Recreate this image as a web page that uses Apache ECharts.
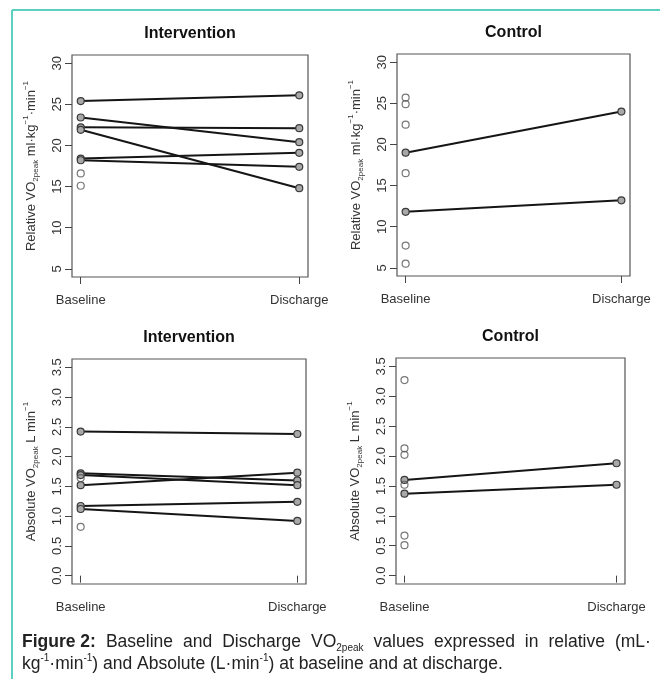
<!DOCTYPE html>
<html>
<head>
<meta charset="utf-8">
<script src="https://cdn.jsdelivr.net/npm/echarts@6/dist/echarts.min.js"></script>
<style>
html,body{margin:0;padding:0;background:#fff;}
#chart{width:660px;height:679px;}
</style>
</head>
<body>
<div id="chart"></div>
<script>
// ---- data ----
const timepoints = ['Baseline', 'Discharge'];
const timeX = [1, 2];

const panelTitles = ['Intervention', 'Control', 'Intervention', 'Control'];

// Relative VO2peak (ml·kg-1·min-1)
const relIntBase = [25.4, 23.4, 22.2, 21.9, 18.4, 18.2, 16.6, 15.1];
const relIntDis  = [26.1, 20.4, 22.1, 14.8, 19.1, 17.4, null, null];
const relCtlBase = [25.7, 24.9, 22.4, 19.0, 16.5, 11.8, 7.7, 5.5];
const relCtlDis  = [null, null, null, 24.0, null, 13.2, null, null];

// Absolute VO2peak (L·min-1)
const absIntBase = [2.42, 1.72, 1.69, 1.64, 1.52, 1.17, 1.12, 0.82];
const absIntDis  = [2.38, 1.60, 1.52, null, 1.73, 1.24, 0.92, null];
const absCtlBase = [3.27, 2.13, 2.02, 1.60, 1.52, 1.37, 0.67, 0.51];
const absCtlDis  = [null, null, null, 1.88, null, 1.52, null, null];

const relTicks = [5, 10, 15, 20, 25, 30];
const absTicks = [0, 0.5, 1.0, 1.5, 2.0, 2.5, 3.0, 3.5];

// ---- layout ----
const grids = [
  {left: 72, top: 55, width: 236, height: 222},
  {left: 397, top: 54, width: 233, height: 222},
  {left: 72, top: 359, width: 234, height: 225},
  {left: 396, top: 358, width: 229, height: 226}
];
const panels = [
  {base: relIntBase, dis: relIntDis, ticks: relTicks, min: 4, max: 31, kind: 'rel'},
  {base: relCtlBase, dis: relCtlDis, ticks: relTicks, min: 4, max: 31, kind: 'rel'},
  {base: absIntBase, dis: absIntDis, ticks: absTicks, min: -0.14, max: 3.64, kind: 'abs'},
  {base: absCtlBase, dis: absCtlDis, ticks: absTicks, min: -0.14, max: 3.64, kind: 'abs'}
];

const FONT = 'Liberation Sans, Arial, Helvetica, sans-serif';
const relName = '{n|Relative VO}{s|2peak}{n| ml·kg}{p|−1}{n|·min}{p|−1}';
const absName = '{n|Absolute VO}{s|2peak}{n| L min}{p|−1}';
const nameRich = {
  n: {fontSize: 13, fontFamily: FONT, color: '#333', lineHeight: 18, verticalAlign: 'middle'},
  s: {fontSize: 8, fontFamily: FONT, color: '#333', lineHeight: 18, verticalAlign: 'bottom'},
  p: {fontSize: 8, fontFamily: FONT, color: '#333', lineHeight: 18, verticalAlign: 'top'}
};

const xAxes = [], yAxes = [], series = [];
panels.forEach((p, i) => {
  xAxes.push({
    type: 'value', gridIndex: i, min: 0.96, max: 2.04,
    axisLine: {show: false},
    splitLine: {show: false},
    axisTick: {show: true, inside: false, length: 7, customValues: timeX, lineStyle: {color: '#444', width: 1}},
    axisLabel: {
      customValues: timeX, margin: 17, fontSize: 13, fontFamily: FONT, color: '#333',
      formatter: v => timepoints[timeX.indexOf(Math.round(v))] || ''
    }
  });
  yAxes.push({
    type: 'value', gridIndex: i, min: p.min, max: p.max,
    axisLine: {show: false},
    splitLine: {show: false},
    axisTick: {show: true, inside: false, length: 7, customValues: p.ticks, lineStyle: {color: '#444', width: 1}},
    axisLabel: {
      customValues: p.ticks, rotate: 90, margin: 8, fontSize: 13, fontFamily: FONT, color: '#333',
      formatter: v => p.kind === 'abs' ? Number(v).toFixed(1) : String(v)
    },
    name: p.kind === 'abs' ? absName : relName,
    nameLocation: 'middle', nameRotate: 90, nameGap: 32,
    nameTextStyle: {rich: nameRich}
  });
  p.base.forEach((b, k) => {
    const d = p.dis[k];
    if (d !== null && d !== undefined) {
      series.push({
        type: 'line', xAxisIndex: i, yAxisIndex: i,
        data: [[timeX[0], b], [timeX[1], d]],
        symbol: 'circle', symbolSize: 7, showSymbol: true,
        lineStyle: {color: '#151515', width: 2},
        itemStyle: {color: '#a8a8a8', borderColor: '#3a3a3a', borderWidth: 1.2},
        silent: true, animation: false, z: 3
      });
    }
  });
  const unpaired = p.base.map((b, k) => [b, p.dis[k]]).filter(v => v[1] === null).map(v => [timeX[0], v[0]]);
  series.push({
    type: 'scatter', xAxisIndex: i, yAxisIndex: i,
    data: unpaired,
    symbol: 'circle', symbolSize: 7,
    itemStyle: {color: 'rgba(0,0,0,0)', borderColor: '#555', borderWidth: 1.2},
    silent: true, animation: false, z: 3
  });
});

const titleGraphics = grids.map((g, i) => ({
  type: 'text',
  x: g.left + g.width / 2,
  y: g.top - 21,
  style: {
    text: panelTitles[i], fontSize: 16, fontWeight: 'bold', fontFamily: FONT,
    fill: '#111', align: 'center', verticalAlign: 'middle'
  }
}));

const CAP = 17.5;
const captionRich = {
  b: {fontWeight: 'bold', fontSize: CAP, fontFamily: FONT, fill: '#222'},
  w: {fontSize: CAP, fontFamily: FONT, fill: '#222', width: 10},
  s: {fontSize: 10, fontFamily: FONT, fill: '#222', verticalAlign: 'bottom', lineHeight: 22},
  p: {fontSize: 10, fontFamily: FONT, fill: '#222', verticalAlign: 'top', lineHeight: 22}
};
// first caption line is justified in the original
const capLine1 = ['{b|Figure 2:}', 'Baseline', 'and', 'Discharge', 'VO{s|2peak}', 'values', 'expressed', 'in', 'relative', '(mL·'].join('{w| }');
const capLine2 = 'kg{p|-1}·min{p|-1}) and Absolute (L·min{p|-1}) at baseline and at discharge.';

const option = {
  backgroundColor: '#fff',
  animation: false,
  grid: grids.map(g => Object.assign({show: true, borderColor: '#555', borderWidth: 1.2, backgroundColor: 'transparent', containLabel: false}, g)),
  xAxis: xAxes,
  yAxis: yAxes,
  series: series,
  graphic: [
    {type: 'line', shape: {x1: 12, y1: 10, x2: 660, y2: 10}, style: {stroke: '#5cd0c0', lineWidth: 2}},
    {type: 'line', shape: {x1: 12, y1: 10, x2: 12, y2: 679}, style: {stroke: '#5cd0c0', lineWidth: 2}},
    ...titleGraphics,
    {
      type: 'text', x: 22, y: 642,
      style: {text: capLine1, rich: captionRich, fontSize: CAP, fontFamily: FONT, fill: '#222', verticalAlign: 'middle', lineHeight: 22}
    },
    {
      type: 'text', x: 22, y: 664,
      style: {text: capLine2, rich: captionRich, fontSize: CAP, fontFamily: FONT, fill: '#222', verticalAlign: 'middle', lineHeight: 22}
    }
  ]
};

const chart = echarts.init(document.getElementById('chart'), null, {renderer: 'canvas'});
chart.setOption(option);
</script>
</body>
</html>
